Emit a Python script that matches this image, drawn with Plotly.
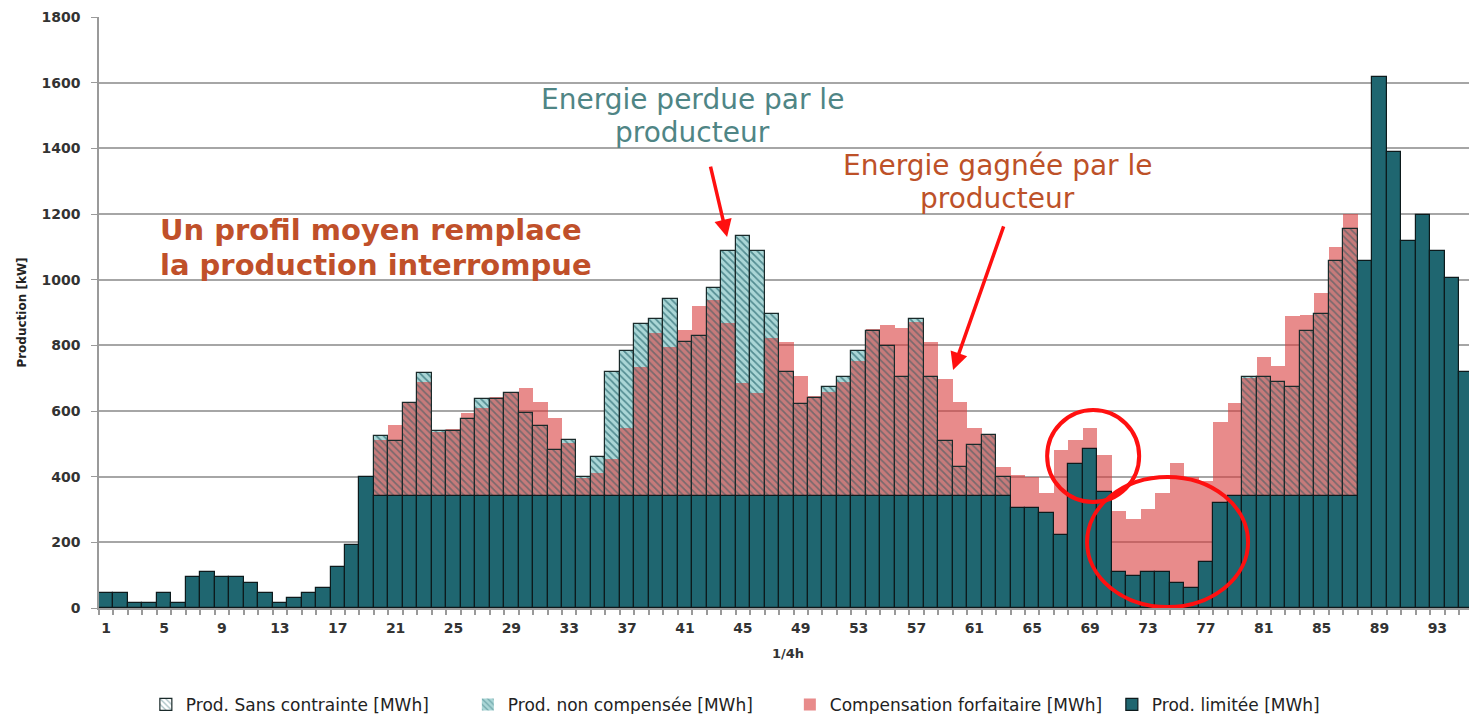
import plotly.graph_objects as go

quarters = list(range(1, 97))

prod_limitee = (
    [45, 45, 15, 15, 45, 15, 95, 110, 95, 95, 75, 45, 14, 29, 45, 60, 126, 192, 400]
    + [340] * 44
    + [304, 304, 288, 222, 440, 483, 353, 110, 97, 110, 110, 75, 60, 141, 320]
    + [340] * 9
    + [1057, 1618, 1390, 1119, 1198, 1088, 1006, 718, 1088]
)

prod_sans_contrainte = (
    [None] * 19
    + [524, 510, 623, 717, 540, 540, 576, 636, 636, 654, 593, 555, 481, 512, 400, 459,
       718, 783, 864, 880, 940, 811, 829, 976, 1087, 1133, 1087, 894, 718, 621, 639, 672,
       703, 783, 844, 798, 703, 880, 703, 510, 428, 496, 527, 400]
    + [None] * 16
    + [703, 703, 687, 673, 845, 895, 1057, 1155]
    + [None] * 9
)

compensation = (
    [None] * 19
    + [512, 557, 625, 687, 537, 546, 595, 608, 644, 656, 669, 628, 578, 502, 395, 410,
       453, 547, 735, 837, 796, 847, 921, 938, 867, 684, 654, 821, 809, 708, 647, 659,
       689, 752, 849, 862, 852, 872, 809, 697, 628, 547, 527, 430]
    + [405, 400, 349, 481, 512, 547, 466, 295, 270, 303, 349, 441, 398, 387, 568, 624]
    + [700, 765, 738, 888, 893, 959, 1099, 1200]
    + [None] * 9
)

x_tick_vals = list(range(1, 97, 4))
x_tick_text = [str(v) for v in x_tick_vals]

FONT = "DejaVu Sans, Verdana, sans-serif"
DARK_TEAL = "#1f6670"

fig = go.Figure()

fig.add_trace(go.Bar(
    x=quarters, y=prod_sans_contrainte, name="Prod. non compensée [MWh]",
    width=1, legendrank=2,
    marker=dict(color="#aad6d6", line=dict(width=0),
                pattern=dict(shape="\\", fgcolor="#3d7d84", fgopacity=0.55, size=5, solidity=0.3)),
))
fig.add_trace(go.Bar(
    x=quarters, y=compensation, name="Compensation forfaitaire [MWh]",
    width=1, legendrank=3,
    marker=dict(color="rgba(216,62,62,0.6)", line=dict(width=0)),
))
fig.add_trace(go.Bar(
    x=quarters, y=prod_sans_contrainte, name="Prod. Sans contrainte [MWh]",
    width=1, legendrank=1,
    marker=dict(color="rgba(255,255,255,0)", line=dict(width=1.2, color="#1a2a2a"),
                pattern=dict(shape="\\", fgcolor="#2f6b72", fgopacity=0.45, size=5, solidity=0.3,
                             bgcolor="rgba(255,255,255,0)")),
))
fig.add_trace(go.Bar(
    x=quarters, y=prod_limitee, name="Prod. limitée [MWh]",
    width=1, legendrank=4,
    marker=dict(color=DARK_TEAL, line=dict(width=1.2, color="#0d1a1c")),
))

shapes = [
    dict(type="circle", xref="x", yref="y", x0=66.03, x1=72.39, y0=323, y1=603,
         line=dict(color="#ff1010", width=4)),
    dict(type="circle", xref="x", yref="y", x0=68.79, x1=79.92, y0=3, y1=399,
         line=dict(color="#ff1010", width=4)),
]

def txt(x, y, text, color, size, anchor, bold=False):
    return dict(x=x, y=y, xref="x", yref="y", xanchor=anchor, yanchor="middle",
                showarrow=False, text=(f"<b>{text}</b>" if bold else text),
                font=dict(family=FONT, size=size, color=color))

annotations = [
    txt(4.59, 1151, "Un profil moyen remplace", "#c0502a", 29, "left", bold=True),
    txt(4.59, 1045, "la production interrompue", "#c0502a", 29, "left", bold=True),
    txt(41.5, 1550, "Energie perdue par le", "#4f8585", 28, "center"),
    txt(41.5, 1447, "producteur", "#4f8585", 28, "center"),
    txt(62.62, 1349, "Energie gagnée par le", "#bd5128", 28, "center"),
    txt(62.62, 1246, "producteur", "#bd5128", 28, "center"),
    dict(x=43.91, y=1130, ax=42.74, ay=1349, xref="x", yref="y", axref="x", ayref="y",
         text="", showarrow=True, arrowhead=2, arrowsize=1, arrowwidth=3.5, arrowcolor="#ff1010"),
    dict(x=59.53, y=725, ax=63.06, ay=1167, xref="x", yref="y", axref="x", ayref="y",
         text="", showarrow=True, arrowhead=2, arrowsize=1, arrowwidth=3.5, arrowcolor="#ff1010"),
]

# the page body has an 8px margin: the figure is sized and offset to compensate
fig.update_layout(
    width=1469, height=706,
    margin=dict(l=91, r=0, t=9, b=106, pad=0, autoexpand=False),
    paper_bgcolor="white", plot_bgcolor="white",
    barmode="overlay", bargap=0,
    font=dict(family=FONT, size=13, color="#333333"),
    shapes=shapes, annotations=annotations,
    showlegend=True,
    legend=dict(orientation="h", x=0.034, xanchor="left", y=-0.164, yanchor="middle",
                font=dict(family=FONT, size=17, color="#222222"),
                entrywidth=277, entrywidthmode="pixels", traceorder="normal",
                itemclick=False, itemdoubleclick=False),
)

fig.update_xaxes(
    range=[0.5, 95.74], automargin=False,
    tickmode="array", tickvals=x_tick_vals, ticktext=x_tick_text,
    ticks="", showgrid=False, zeroline=False,
    showline=True, linecolor="#9a9a9a", linewidth=1.5,
    ticklabelstandoff=6,
    tickfont=dict(family=FONT, size=14, color="#333333", weight="bold"),
    minor=dict(ticks="outside", tick0=0.5, dtick=1, ticklen=5, tickcolor="#9a9a9a", tickwidth=1.5, showgrid=False),
    title=dict(text="<b>1/4h</b>", font=dict(family=FONT, size=13, color="#333333"), standoff=14),
)
fig.update_yaxes(
    range=[0, 1800], tickmode="linear", tick0=0, dtick=200, automargin=False,
    showgrid=True, gridcolor="#a6a6a6", gridwidth=1.5,
    showline=True, linecolor="#9a9a9a", linewidth=1.5,
    ticks="outside", ticklen=6, tickcolor="#9a9a9a",
    ticklabelstandoff=8,
    zeroline=False,
    tickfont=dict(family=FONT, size=14, color="#333333", weight="bold"),
    title=dict(text="<b>Production [kW]</b>", font=dict(family=FONT, size=12, color="#222222"), standoff=12),
)

fig.write_html("out.html")
